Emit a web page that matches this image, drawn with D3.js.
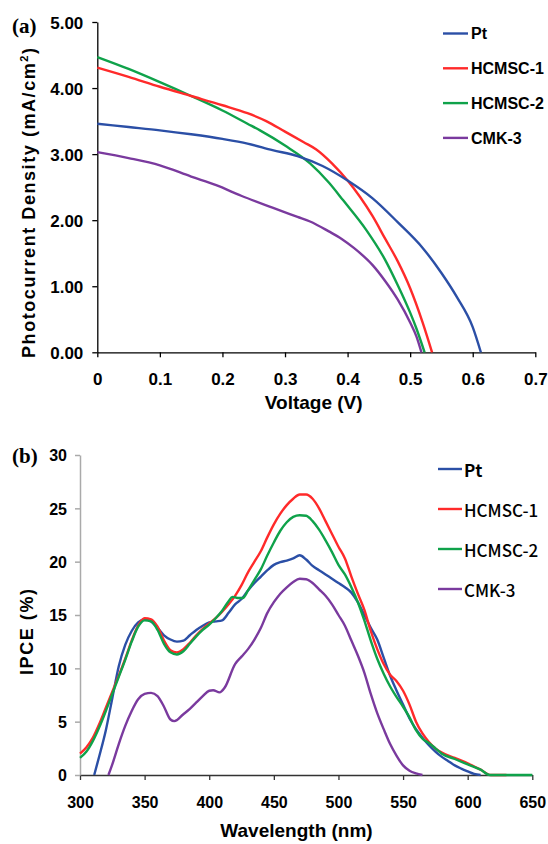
<!DOCTYPE html>
<html><head><meta charset="utf-8">
<script src="https://cdn.jsdelivr.net/npm/d3@7"></script>
<style>
html,body{margin:0;padding:0;background:#fff;}
svg{display:block;}
</style></head>
<body>
<script>
// ---------- Panel (a): J-V curves ----------
const seriesNames = ["Pt", "HCMSC-1", "HCMSC-2", "CMK-3"];
const seriesColors = ["#2b4fa6", "#ff2a2a", "#0fa24a", "#7a3a9e"];

const jvPtV = [0,0.05,0.1,0.15,0.2,0.24,0.28,0.32,0.36,0.4,0.44,0.48,0.52,0.55,0.575,0.6,0.613];
const jvPtJ = [3.46,3.41,3.36,3.30,3.23,3.16,3.06,2.97,2.82,2.60,2.33,1.97,1.58,1.20,0.83,0.38,0];
const jvH1V = [0,0.05,0.1,0.15,0.2,0.24,0.27,0.3,0.33,0.35,0.375,0.4,0.42,0.44,0.46,0.48,0.5,0.52,0.535];
const jvH1J = [4.31,4.17,4.02,3.88,3.74,3.62,3.50,3.34,3.18,3.07,2.86,2.60,2.35,2.06,1.72,1.38,0.97,0.45,0];
const jvH2V = [0,0.05,0.1,0.15,0.2,0.24,0.26,0.3,0.34,0.37,0.393,0.43,0.46,0.48,0.5,0.51,0.523];
const jvH2J = [4.47,4.29,4.09,3.88,3.66,3.46,3.36,3.13,2.86,2.57,2.30,1.85,1.40,1.02,0.60,0.36,0];
const jvCmV = [0,0.05,0.1,0.15,0.19,0.23,0.28,0.32,0.34,0.37,0.39,0.41,0.44,0.46,0.48,0.5,0.51,0.518];
const jvCmJ = [3.03,2.94,2.83,2.66,2.53,2.37,2.19,2.05,1.98,1.83,1.72,1.58,1.32,1.08,0.80,0.45,0.24,0];

const voltTicks = [0,0.1,0.2,0.3,0.4,0.5,0.6,0.7];
const voltTickLabels = ["0","0.1","0.2","0.3","0.4","0.5","0.6","0.7"];
const jTicks = [0,1,2,3,4,5];
const jTickLabels = ["0.00","1.00","2.00","3.00","4.00","5.00"];

// ---------- Panel (b): IPCE ----------
const ipcePtW = [311,315,320,325,330,335,340,345,350,355,360,365,370,375,380,385,390,395,400,405,410,415,420,425,430,435,440,445,450,455,460,465,470,475,480,485,490,495,500,505,510,515,520,525,530,535,540,545,550,555,560,565,570,575,580,585,590,595,600,605,610];
const ipcePtV = [0,1.8,4.2,7.2,10.2,12.2,13.5,14.3,14.6,14.4,13.8,13.1,12.7,12.5,12.6,13.1,13.6,14.0,14.3,14.4,14.5,15.2,16.0,16.5,17.3,18.0,18.6,19.2,19.7,19.95,20.1,20.3,20.6,20.2,19.6,19.2,18.8,18.4,18.0,17.6,17.1,16.2,15.0,13.8,12.7,11.0,9.3,7.9,6.6,5.3,4.3,3.5,2.8,2.2,1.7,1.3,0.9,0.6,0.34,0.1,0];
const ipceH1W = [300,305,310,315,320,325,330,335,340,345,350,355,360,365,370,375,380,385,390,395,400,405,410,415,420,425,430,435,440,445,450,455,460,465,470,475,480,485,490,495,500,505,510,515,520,525,530,535,540,545,550,555,560,565,570,575,580,590,600,610,618,630];
const ipceH1V = [2.0,2.6,3.5,4.8,6.3,7.8,9.3,10.9,12.6,14.0,14.7,14.6,13.9,12.6,11.7,11.5,11.8,12.4,13.1,13.7,14.2,14.7,15.3,16.0,16.8,17.8,19.0,20.0,21.0,22.3,23.5,24.5,25.3,25.9,26.3,26.3,25.9,25.0,23.8,22.6,21.4,20.3,18.6,17.0,15.5,13.5,11.8,10.4,9.4,8.8,7.9,6.6,5.0,3.9,3.1,2.5,2.1,1.6,1.1,0.5,0,0];
const ipceH2W = [300,305,310,315,320,325,330,335,340,345,350,355,360,365,370,375,380,385,390,395,400,405,410,415,418,422,426,430,435,440,445,450,455,460,465,470,475,480,485,490,495,500,505,510,515,520,525,530,535,540,545,550,555,560,565,570,575,580,590,600,610,617,650];
const ipceH2V = [1.6,2.2,3.2,4.5,6.0,7.6,9.2,10.8,12.5,13.9,14.5,14.4,13.6,12.3,11.5,11.3,11.6,12.3,13.0,13.6,14.1,14.7,15.4,16.3,16.7,16.6,16.6,17.3,18.3,19.3,20.6,21.8,22.9,23.7,24.2,24.35,24.3,23.8,23.0,22.0,20.9,19.7,18.8,17.6,16.2,14.5,12.6,10.9,9.5,8.3,7.3,6.4,5.4,4.2,3.4,3.0,2.5,2.0,1.5,1.0,0.5,0,0];
const ipceCmW = [322,325,330,335,340,345,350,355,360,365,370,373,380,385,390,395,400,403,408,412,420,425,430,435,440,445,450,455,460,465,470,475,480,485,490,495,500,505,510,515,520,525,530,535,540,545,550,555,560,565];
const ipceCmV = [0,1.0,2.9,4.6,6.0,7.1,7.6,7.7,7.4,6.4,5.2,5.05,5.7,6.2,6.8,7.4,7.9,7.95,7.75,8.2,10.4,11.1,11.8,12.7,13.8,15.2,16.2,17.0,17.6,18.1,18.4,18.35,18.0,17.4,16.8,16.0,15.0,14.0,12.6,11.2,9.6,7.6,5.8,4.3,2.9,1.8,0.9,0.4,0.15,0];

const waveTicks = [300,350,400,450,500,550,600,650];
const ipceTicks = [0,5,10,15,20,25,30];

// ---------- drawing ----------
const W = 548, H = 844;
const svg = d3.select("body").append("svg").attr("width", W).attr("height", H);
const AX = "'Liberation Sans', Arial, sans-serif";

function pairs(xs, ys){ return xs.map((x,i)=>[x, ys[i]]); }

// Panel a scales
const xa = d3.scaleLinear().domain([0,0.7]).range([97.3,535.3]);
const ya = d3.scaleLinear().domain([0,5]).range([352.3,22]);

const gA = svg.append("g");
const xAxisA = d3.axisBottom(xa).tickValues(voltTicks).tickFormat((d,i)=>voltTickLabels[i]).tickSize(5).tickSizeOuter(0);
const yAxisA = d3.axisLeft(ya).tickValues(jTicks).tickFormat((d,i)=>jTickLabels[i]).tickSize(5).tickSizeOuter(0);
const gxA = gA.append("g").attr("transform","translate(0,352.3)").call(xAxisA);
const gyA = gA.append("g").attr("transform","translate(97.3,0)").call(yAxisA);
[gxA,gyA].forEach(g=>{
  g.selectAll("path,line").attr("stroke","#000").attr("stroke-width",1.3);
  g.selectAll("text").attr("font-family",AX).attr("font-weight","bold").attr("font-size",17).attr("fill","#000");
});
gxA.selectAll("text").attr("dy",null).attr("y",33);
gyA.selectAll("text").attr("x",-14).attr("dy","0.36em");

const jvX = [jvPtV,jvH1V,jvH2V,jvCmV];
const jvY = [jvPtJ,jvH1J,jvH2J,jvCmJ];
const lineA = d3.line().x(d=>xa(d[0])).y(d=>ya(d[1])).curve(d3.curveMonotoneX);
// draw order: purple, green, red, blue
[3,2,1,0].forEach(i=>{
  gA.append("path").datum(pairs(jvX[i], jvY[i]))
    .attr("d", lineA).attr("fill","none").attr("stroke", seriesColors[i]).attr("stroke-width",2.4);
});

// Titles a
gA.append("text").attr("x",313.7).attr("y",409).attr("text-anchor","middle")
  .attr("font-family",AX).attr("font-weight","bold").attr("font-size",19).text("Voltage (V)");
const ytA = gA.append("text").attr("transform","translate(35,203) rotate(-90)").attr("text-anchor","middle")
  .attr("font-family",AX).attr("font-weight","bold").attr("font-size",18)
  .attr("textLength",310).attr("lengthAdjust","spacing");
ytA.append("tspan").text("Photocurrent Density (mA/cm");
ytA.append("tspan").attr("font-size",11).attr("dy",-7).text("2");
ytA.append("tspan").attr("dy",7).text(")");
svg.append("text").attr("x",12).attr("y",33).attr("font-family","'Liberation Serif','Times New Roman',serif")
  .attr("font-weight","bold").attr("font-size",21).text("(a)");

// Legend a
const legA = svg.append("g");
seriesNames.forEach((n,i)=>{
  const y = 33.5 + i*34.8;
  legA.append("line").attr("x1",443).attr("x2",468).attr("y1",y).attr("y2",y)
    .attr("stroke",seriesColors[i]).attr("stroke-width",2.4);
  legA.append("text").attr("x",471).attr("y",y).attr("dy","0.36em")
    .attr("font-family",AX).attr("font-weight","bold").attr("font-size",16).text(n);
});

// Panel b scales
const xb = d3.scaleLinear().domain([300,650]).range([80,532.3]);
const yb = d3.scaleLinear().domain([0,30]).range([775,455]);
const gB = svg.append("g");
const xAxisB = d3.axisBottom(xb).tickValues(waveTicks).tickSize(5).tickSizeOuter(0);
const yAxisB = d3.axisLeft(yb).tickValues(ipceTicks).tickSize(5).tickSizeOuter(0);
const gxB = gB.append("g").attr("transform","translate(0,775)").call(xAxisB);
const gyB = gB.append("g").attr("transform","translate(80,0)").call(yAxisB);
gxB.selectAll("path,line").attr("stroke","#333").attr("stroke-width",1.3);
gyB.selectAll("path,line").attr("stroke","#aaa").attr("stroke-width",1.5);
[gxB,gyB].forEach(g=>{
  g.selectAll("text").attr("font-family",AX).attr("font-weight","bold").attr("font-size",16).attr("fill","#000");
});
gxB.selectAll("text").attr("dy",null).attr("y",33);
gyB.selectAll("text").attr("x",-13).attr("dy","0.36em");

const ipX = [ipcePtW,ipceH1W,ipceH2W,ipceCmW];
const ipY = [ipcePtV,ipceH1V,ipceH2V,ipceCmV];
const lineB = d3.line().x(d=>xb(d[0])).y(d=>yb(d[1])).curve(d3.curveMonotoneX);
[3,0,1,2].forEach(i=>{
  gB.append("path").datum(pairs(ipX[i], ipY[i]))
    .attr("d", lineB).attr("fill","none").attr("stroke", seriesColors[i]).attr("stroke-width",2.4);
});

gB.append("text").attr("x",296.5).attr("y",837).attr("text-anchor","middle")
  .attr("font-family",AX).attr("font-weight","bold").attr("font-size",19).text("Wavelength (nm)");
gB.append("text").attr("transform","translate(33,632) rotate(-90)").attr("text-anchor","middle")
  .attr("font-family",AX).attr("font-weight","bold").attr("font-size",18)
  .attr("textLength",86).attr("lengthAdjust","spacing").text("IPCE (%)");
svg.append("text").attr("x",12).attr("y",463).attr("font-family","'Liberation Serif','Times New Roman',serif")
  .attr("font-weight","bold").attr("font-size",21).text("(b)");

// Legend b
const legB = svg.append("g");
seriesNames.forEach((n,i)=>{
  const y = 469 + i*40;
  legB.append("line").attr("x1",438).attr("x2",462).attr("y1",y).attr("y2",y)
    .attr("stroke",seriesColors[i]).attr("stroke-width",2.4);
  legB.append("text").attr("x",464).attr("y",y+2).attr("dy","0.36em")
    .attr("font-family","'Noto Sans CJK KR','Noto Sans',sans-serif").attr("font-weight",i===0?"bold":"500").attr("font-size",17).text(n);
});
</script>
</body></html>
